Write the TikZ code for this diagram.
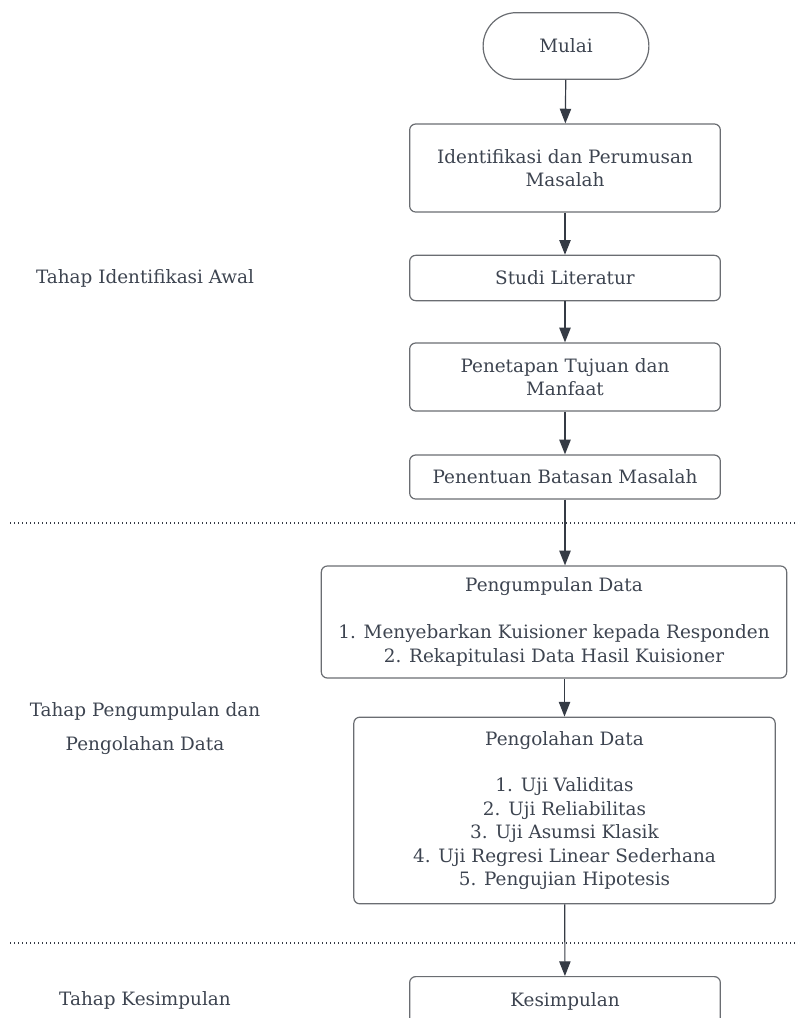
\documentclass[tikz,border=0pt]{standalone}
\usepackage{fontspec}
\setmainfont{DejaVu Serif}
\usetikzlibrary{shapes,arrows.meta}
\definecolor{txt}{HTML}{3D4450}
\definecolor{boxline}{HTML}{6A6D72}
\definecolor{arrowcol}{HTML}{353B45}

\begin{document}
\begin{tikzpicture}[x=0.75pt,y=-0.75pt]
\tikzstyle{every node}=[text=txt,font=\fontsize{13.8}{17.6}\selectfont,align=center]
\tikzstyle{stepbox}=[draw=boxline,line width=0.9pt,rounded corners=4.5pt,minimum width=233pt,inner sep=0pt]
\tikzstyle{terminal}=[draw=boxline,line width=0.9pt,rounded rectangle,minimum width=131pt,minimum height=50pt]
\tikzstyle{line}=[draw=arrowcol,line width=0.9pt,-{Triangle[width=8.5pt,length=11pt]}]
\tikzstyle{sep}=[draw=arrowcol,line width=1pt,dash pattern=on 1.1pt off 1.9pt]

\clip (0,0) rectangle (798,1018);

% langkah
\node[terminal] (mulai) at (566,46) {Mulai};
\node[stepbox,minimum height=66pt] (ident) at (565,168) {Identifikasi dan Perumusan\\Masalah};
\node[stepbox,minimum height=34pt] (studi) at (565,278) {Studi Literatur};
\node[stepbox,minimum height=51pt] (tujuan) at (565,377) {Penetapan Tujuan dan\\Manfaat};
\node[stepbox,minimum height=33pt] (batasan) at (565,477) {Penentuan Batasan Masalah};
\node[stepbox,minimum width=349pt,minimum height=84pt] (kumpul) at (554,622)
  {Pengumpulan Data\\[17.6pt]1. Menyebarkan Kuisioner kepada Responden\\2. Rekapitulasi Data Hasil Kuisioner};
\node[stepbox,minimum width=316pt,minimum height=140pt] (olah) at (564.5,810.5)
  {Pengolahan Data\\[17.6pt]1. Uji Validitas\\2. Uji Reliabilitas\\3. Uji Asumsi Klasik\\4. Uji Regresi Linear Sederhana\\5. Pengujian Hipotesis};
\node[stepbox,minimum height=37pt,anchor=north] (simpulan) at (565,976) {Kesimpulan};

% tahap
\node (tahapawal) at (145,278) {Tahap Identifikasi Awal};
\node (tahapdata) at (145,728.5) {Tahap Pengumpulan dan\\[7.4pt]Pengolahan Data};
\node (tahapakhir) at (145,1000) {Tahap Kesimpulan};

% pemisah
\coordinate (sepAkiri) at (10,523);
\coordinate (sepAkanan) at (798,523);
\coordinate (sepBkiri) at (10,943);
\coordinate (sepBkanan) at (798,943);
\draw[sep] (sepAkiri) -- (sepAkanan);
\draw[sep] (sepBkiri) -- (sepBkanan);

% panah
\draw[line] (mulai) -- (ident);
\draw[line] (ident) -- (studi);
\draw[line] (studi) -- (tujuan);
\draw[line] (tujuan) -- (batasan);
\draw[line] (batasan.south) -- (batasan.south |- kumpul.north);
\draw[line] (kumpul.south -| olah.north) -- (olah.north);
\draw[line] (olah) -- (simpulan);

\end{tikzpicture}
\end{document}
